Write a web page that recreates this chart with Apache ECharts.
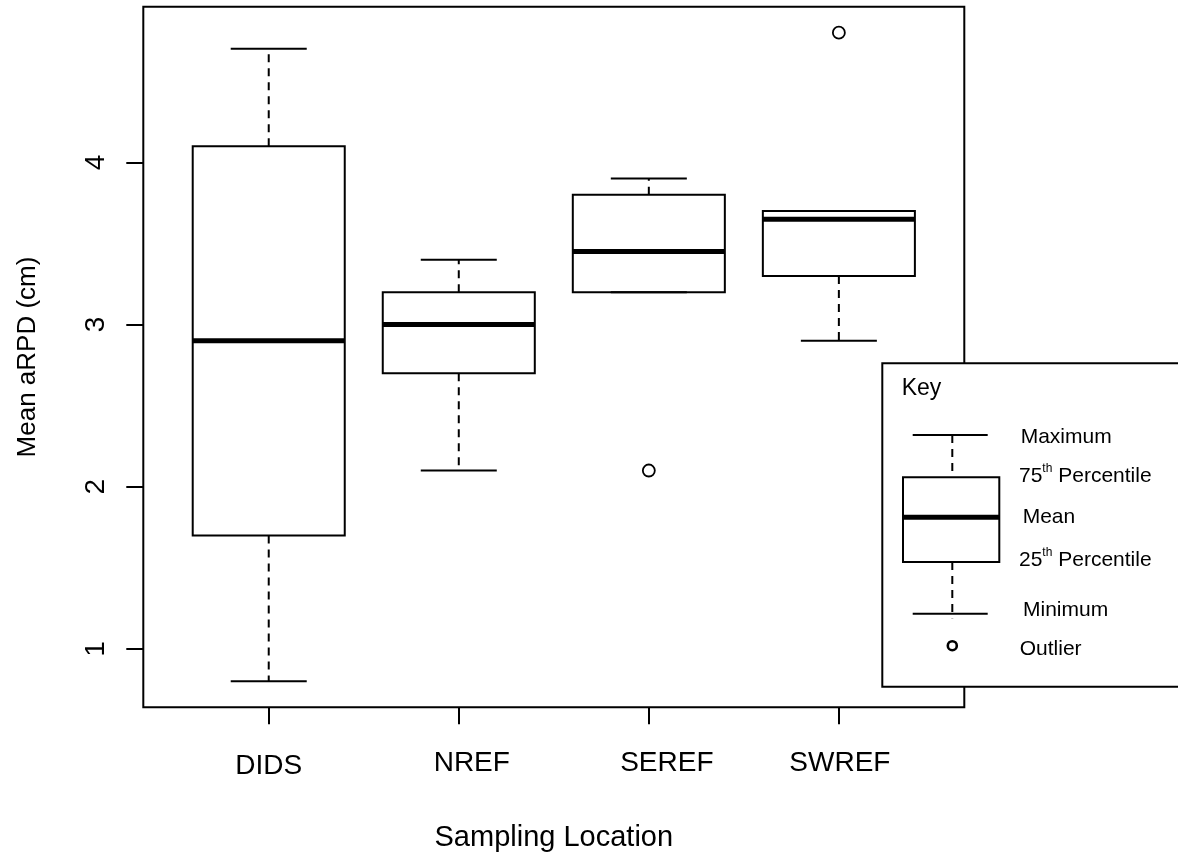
<!DOCTYPE html>
<html>
<head>
<meta charset="utf-8">
<script src="https://cdn.jsdelivr.net/npm/echarts@6/dist/echarts.min.js"></script>
<style>
  html, body { margin: 0; padding: 0; background: #fff; }
  #chart { width: 1178px; height: 856px; }
</style>
</head>
<body>
<div id="chart"></div>
<script>
// ---- data ----
const categories = ['DIDS', 'NREF', 'SEREF', 'SWREF'];
const mins    = [0.8, 2.1, 3.2, 2.9];
const q1s     = [1.7, 2.7, 3.2, 3.3];
const medians = [2.9, 3.0, 3.45, 3.65];
const q3s     = [4.1, 3.2, 3.8, 3.7];
const maxs    = [4.7, 3.4, 3.9, 3.7];
const outlierCategories = ['SEREF', 'SWREF'];
const outlierValues     = [2.1, 4.8];
const yTicks = [1, 2, 3, 4];
const xTicks = [1, 2, 3, 4];
const keyLabels = ['Maximum', '75th Percentile', 'Mean', '25th Percentile', 'Minimum', 'Outlier'];

const FONT = "'Liberation Sans', Arial, Helvetica, sans-serif";
const BOX_WEX = 0.8;

const boxData = categories.map((c, i) => [i + 1, mins[i], q1s[i], medians[i], q3s[i], maxs[i]]);
const outlierData = outlierCategories.map((c, i) => [categories.indexOf(c) + 1, outlierValues[i]]);

function renderBox(params, api) {
  const x = api.value(0);
  const w = api.size([BOX_WEX, 0])[0];
  const pMin = api.coord([x, api.value(1)]);
  const pQ1 = api.coord([x, api.value(2)]);
  const pMed = api.coord([x, api.value(3)]);
  const pQ3 = api.coord([x, api.value(4)]);
  const pMax = api.coord([x, api.value(5)]);
  const cx = pMed[0];
  const solid = { stroke: '#000', lineWidth: 2 };
  const dashed = { stroke: '#000', lineWidth: 2, lineDash: [8, 6] };
  const children = [];
  if (pMax[1] < pQ3[1]) children.push({ type: 'line', shape: { x1: cx, y1: pQ3[1], x2: cx, y2: pMax[1] }, style: dashed });
  if (pMin[1] > pQ1[1]) children.push({ type: 'line', shape: { x1: cx, y1: pQ1[1], x2: cx, y2: pMin[1] }, style: dashed });
  children.push({ type: 'line', shape: { x1: cx - w / 4, y1: pMax[1], x2: cx + w / 4, y2: pMax[1] }, style: solid });
  children.push({ type: 'line', shape: { x1: cx - w / 4, y1: pMin[1], x2: cx + w / 4, y2: pMin[1] }, style: solid });
  children.push({ type: 'rect', shape: { x: cx - w / 2, y: pQ3[1], width: w, height: pQ1[1] - pQ3[1] },
                  style: { fill: 'transparent', stroke: '#000', lineWidth: 2 } });
  children.push({ type: 'line', shape: { x1: cx - w / 2, y1: pMed[1], x2: cx + w / 2, y2: pMed[1] },
                  style: { stroke: '#000', lineWidth: 5 } });
  return { type: 'group', children: children };
}

// x label nudges as in the reference
const xLabelRich = {
  l0: { fontSize: 28, fontFamily: FONT, color: '#000', padding: [3, 0, 0, 0] },
  l1: { fontSize: 28, fontFamily: FONT, color: '#000', padding: [0, 0, 0, 26] },
  l2: { fontSize: 28, fontFamily: FONT, color: '#000', padding: [0, 0, 0, 36] },
  l3: { fontSize: 28, fontFamily: FONT, color: '#000', padding: [0, 0, 0, 2] }
};

// ---- key (legend drawn as graphics) ----
const blk = '#000';
const keyTextRich = {
  n: { fontSize: 21, fontFamily: FONT, color: blk, lineHeight: 26 },
  s: { fontSize: 12, fontFamily: FONT, color: blk, lineHeight: 14, verticalAlign: 'top' }
};
function keyText(x, y, label) {
  const m = label.match(/^(\d+)(th)(.*)$/);
  const text = m ? '{n|' + m[1] + '}{s|' + m[2] + '}{n|' + m[3] + '}' : '{n|' + label + '}';
  return { type: 'text', z: 102, x: x, y: y,
    style: { text: text, rich: keyTextRich, verticalAlign: 'middle', align: 'left' } };
}
const keyGraphics = [
  { type: 'rect', z: 100, shape: { x: 882.3, y: 363.3, width: 400, height: 323.4 },
    style: { fill: '#fff', stroke: blk, lineWidth: 2 } },
  { type: 'text', z: 102, x: 901.7, y: 389,
    style: { text: 'Key', fontSize: 23, fontFamily: FONT, fill: blk, verticalAlign: 'middle', align: 'left' } },
  { type: 'line', z: 101, shape: { x1: 912.7, y1: 435, x2: 987.7, y2: 435 }, style: { stroke: blk, lineWidth: 2 } },
  { type: 'line', z: 101, shape: { x1: 952.3, y1: 435, x2: 952.3, y2: 477.3 }, style: { stroke: blk, lineWidth: 2, lineDash: [8, 6] } },
  { type: 'rect', z: 101, shape: { x: 903, y: 477.3, width: 96.3, height: 84.7 }, style: { fill: 'transparent', stroke: blk, lineWidth: 2 } },
  { type: 'line', z: 101, shape: { x1: 903, y1: 517.3, x2: 999.3, y2: 517.3 }, style: { stroke: blk, lineWidth: 5 } },
  { type: 'line', z: 101, shape: { x1: 952.3, y1: 562, x2: 952.3, y2: 618.3 }, style: { stroke: blk, lineWidth: 2, lineDash: [8, 6] } },
  { type: 'line', z: 101, shape: { x1: 912.7, y1: 613.7, x2: 987.7, y2: 613.7 }, style: { stroke: blk, lineWidth: 2 } },
  { type: 'circle', z: 101, shape: { cx: 952.3, cy: 645.7, r: 4.5 }, style: { fill: '#fff', stroke: blk, lineWidth: 2.6 } },
  keyText(1020.7, 437, keyLabels[0]),
  keyText(1019, 476, keyLabels[1]),
  keyText(1022.7, 517, keyLabels[2]),
  keyText(1019, 560, keyLabels[3]),
  keyText(1023, 610, keyLabels[4]),
  keyText(1019.7, 649, keyLabels[5])
];

const chart = echarts.init(document.getElementById('chart'), null, { renderer: 'canvas' });
chart.setOption({
  animation: false,
  backgroundColor: '#fff',
  grid: {
    left: 143.3, right: 213.7, top: 6.7, bottom: 148.7,
    show: true, borderColor: '#000', borderWidth: 2, backgroundColor: 'transparent',
    containLabel: false, outerBoundsMode: 'none'
  },
  xAxis: {
    type: 'value', min: 0.34, max: 4.66,
    name: 'Sampling Location', nameLocation: 'middle', nameGap: 116,
    nameTextStyle: { fontSize: 29, fontFamily: FONT, color: '#000' },
    axisLine: { show: false },
    splitLine: { show: false },
    axisTick: { show: true, inside: false, length: 17, customValues: xTicks, lineStyle: { color: '#000', width: 2 } },
    axisLabel: {
      show: true, margin: 42, customValues: xTicks,
      formatter: function (v) { const i = Math.round(v) - 1; return '{l' + i + '|' + categories[i] + '}'; },
      rich: xLabelRich, fontSize: 28, fontFamily: FONT, color: '#000'
    }
  },
  yAxis: {
    type: 'value', min: 0.64, max: 4.96,
    name: 'Mean aRPD (cm)', nameLocation: 'middle', nameGap: 102,
    nameTextStyle: { fontSize: 26, fontFamily: FONT, color: '#000' },
    axisLine: { show: false },
    splitLine: { show: false },
    axisTick: { show: true, inside: false, length: 17, customValues: yTicks, lineStyle: { color: '#000', width: 2 } },
    axisLabel: {
      show: true, rotate: 90, margin: 33, customValues: yTicks,
      formatter: function (v) { return String(v); },
      fontSize: 28, fontFamily: FONT, color: '#000'
    }
  },
  series: [
    {
      type: 'custom', name: 'box',
      renderItem: renderBox,
      encode: { x: 0, y: [1, 2, 3, 4, 5] },
      data: boxData, z: 2
    },
    {
      type: 'scatter', name: 'outlier',
      data: outlierData, symbol: 'circle', symbolSize: 12,
      itemStyle: { color: '#fff', borderColor: '#000', borderWidth: 1.8, opacity: 1 },
      z: 3
    }
  ],
  graphic: keyGraphics
});
</script>
</body>
</html>
